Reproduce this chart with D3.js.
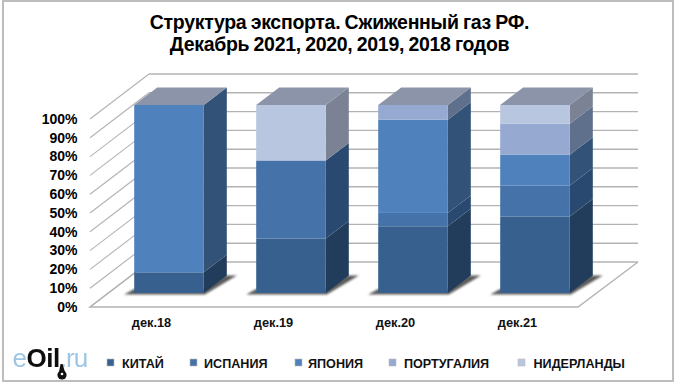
<!DOCTYPE html>
<html><head><meta charset="utf-8">
<script src="https://cdnjs.cloudflare.com/ajax/libs/d3/7.8.5/d3.min.js"></script>
<style>html,body{margin:0;padding:0;background:#fff}svg{display:block}text{font-family:"Liberation Sans",Arial,sans-serif}</style>
</head><body><svg id="c" width="680" height="385"></svg>
<script>
const categories = ["дек.18","дек.19","дек.20","дек.21"];
const seriesNames = ["КИТАЙ","ИСПАНИЯ","ЯПОНИЯ","ПОРТУГАЛИЯ","НИДЕРЛАНДЫ"];
const china = [11, 29, 35.5, 40.7];
const spain = [0, 41.5, 7.1, 16.5];
const japan = [89, 0, 49.6, 16.3];
const portugal = [0, 0, 7.8, 16.5];
const netherlands = [0, 29.5, 0, 10];
const titleLines = ["Структура экспорта. Сжиженный газ РФ.","Декабрь 2021, 2020, 2019, 2018 годов"];
const yTicks = [0,10,20,30,40,50,60,70,80,90,100];
const frontColors = ["#37618e","#4472a8","#4f81bd","#95a9d1","#b9c6e0"];
const sideColors = ["#243c5c","#2b4a70","#305277","#5f6f8c","#7a8294"];
const topColor = "#8b94a8";

const svg = d3.select("#c");
const defs = svg.append("defs");
defs.append("filter").attr("id","blur").attr("x","-30%").attr("y","-60%").attr("width","160%").attr("height","220%")
  .append("feGaussianBlur").attr("stdDeviation",1.1);
defs.append("filter").attr("id","soft").append("feGaussianBlur").attr("stdDeviation",0.35);
defs.append("filter").attr("id","logoblur").attr("x","-10%").attr("y","-20%").attr("width","120%").attr("height","140%")
  .append("feGaussianBlur").attr("stdDeviation",0.45);

// frame
svg.append("rect").attr("x",3).attr("y",1).attr("width",670).attr("height",380)
  .attr("fill","#fff").attr("stroke","#bdbdbd").attr("stroke-width",2);

// scales
const x = d3.scaleBand().domain(categories).range([90,578]);
const y = d3.scaleLinear().domain([0,100]).range([307,119]);
const depthX = 59, depthY = 45;       // full floor depth
const barDX = 23, barDY = 17.5;       // depth of a bar
const gapDX = 18, gapDY = 14;         // bar's offset from the floor front edge
const barW = 69.6;

const grid = "#b3b3b3";
const g = svg.append("g");
// back wall gridlines + left wall diagonals
yTicks.forEach(t=>{
  g.append("line").attr("x1",x.range()[0]+depthX).attr("x2",x.range()[1]+depthX+1)
    .attr("y1",y(t)-depthY).attr("y2",y(t)-depthY).attr("stroke",grid).attr("stroke-width",1.4);
  g.append("line").attr("x1",x.range()[0]).attr("x2",x.range()[0]+depthX)
    .attr("y1",y(t)).attr("y2",y(t)-depthY).attr("stroke",grid).attr("stroke-width",1.1);
});
// floor
g.append("path").attr("fill","none").attr("stroke",grid).attr("stroke-width",1.4)
  .attr("d",d3.line()([[x.range()[0]+depthX,y(0)-depthY],[x.range()[0],y(0)],[x.range()[1],y(0)],[x.range()[1]+depthX+1,y(0)-depthY]]));

const rows = [china,spain,japan,portugal,netherlands];
const pts = a=>a.map(p=>p.join(",")).join(" ");
categories.forEach((c,i)=>{
  const x0 = x(c)+(x.bandwidth()-barW)/2+gapDX;
  const x1 = x0+barW;
  const yb = y(0)-gapDY;
  // shadow on the floor
  g.append("polygon").attr("filter","url(#blur)").attr("fill","#4a4a4a").attr("opacity",.9)
    .attr("points",pts([[x0-10,yb+1.5],[x1+1,yb+1.5],[x1+barDX+10,yb-barDY],[x1+barDX-2,yb-barDY],[x1,yb-4],[x0,yb-4]]));
  let acc=0;
  const bar = g.append("g");
  rows.forEach((r,s)=>{
    const v=r[i]; if(!v) return;
    const a=y(acc)-gapDY, b=y(acc+v)-gapDY; acc+=v;
    bar.append("polygon").attr("fill",sideColors[s])
      .attr("points",pts([[x1,a],[x1+barDX,a-barDY],[x1+barDX,b-barDY],[x1,b]]));
    bar.append("rect").attr("x",x0).attr("y",b).attr("width",barW).attr("height",a-b).attr("fill",frontColors[s]);
  });
  const t=y(acc)-gapDY;
  bar.append("polygon").attr("fill",topColor)
    .attr("points",pts([[x0,t],[x0+barDX,t-barDY],[x1+barDX,t-barDY],[x1,t]]));
  bar.attr("filter","url(#soft)");
  // category label
  svg.append("text").attr("x",x(c)+x.bandwidth()/2+0.5).attr("y",327).attr("text-anchor","middle")
    .attr("font-size",12.8).attr("font-weight","bold").attr("fill","#111").text(c);
});

// y tick labels
const ylabels = svg.append("g");
yTicks.forEach(t=>{
  ylabels.append("text").attr("x",77.5).attr("y",y(t)+4.8).attr("text-anchor","end")
    .attr("font-size",14).attr("font-weight","bold").attr("fill","#000").text(t+"%");
});

// title
titleLines.forEach((l,i)=>{
  svg.append("text").attr("x",339.5).attr("y",[29,51][i]).attr("text-anchor","middle")
    .attr("font-size",19.5).attr("font-weight","bold").attr("letter-spacing",-0.3).attr("word-spacing",-0.8).attr("fill","#000").text(l);
});

// legend
const legendX = [107,190,295,389,518];
const textX = [122,204,308,404,533.5];
seriesNames.forEach((n,i)=>{
  svg.append("rect").attr("x",legendX[i]).attr("y",359).attr("width",7).attr("height",7)
    .attr("fill",frontColors[i]).attr("stroke","#bbb").attr("stroke-width",.6);
  svg.append("text").attr("x",textX[i]).attr("y",368).attr("font-size",12.6).attr("font-weight","bold")
    .attr("fill","#111").text(n);
});

// logo
const logo = svg.append("text").attr("x",12.5).attr("y",367).attr("font-size",26).attr("letter-spacing",-0.5).attr("filter","url(#logoblur)");
logo.append("tspan").attr("fill","#9cc6e4").text("e");
logo.append("tspan").attr("fill","#111").attr("font-weight","bold").text("Oil");
logo.append("tspan").attr("fill","#9cc6e4").attr("letter-spacing",-0.9).text(".ru");
svg.append("circle").attr("cx",62).attr("cy",375).attr("r",4.6).attr("fill","#111");
svg.append("path").attr("d",d3.line()([[59,372],[60.5,364],[62.5,364],[65,372]])).attr("fill","#111");
svg.append("circle").attr("cx",62).attr("cy",374).attr("r",1.3).attr("fill","#fff");
</script></body></html>
